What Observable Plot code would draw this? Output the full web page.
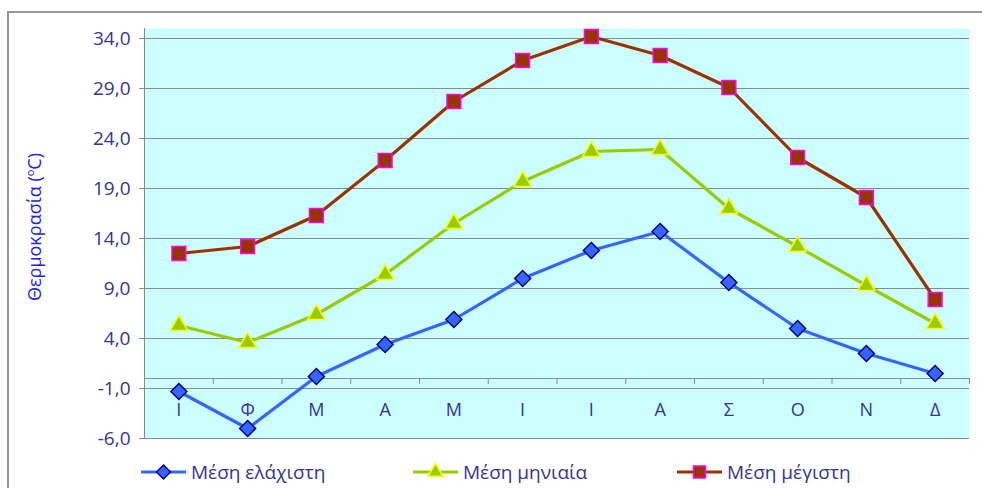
<!DOCTYPE html>
<html><head><meta charset="utf-8">
<script src="https://cdn.jsdelivr.net/npm/d3@7"></script>
<script src="https://cdn.jsdelivr.net/npm/@observablehq/plot@0.6"></script>
<style>
body{margin:0;background:#fff;}
#wrap{position:relative;width:982px;height:488px;overflow:hidden;font-family:"Open Sans",sans-serif;}
#border{position:absolute;left:7px;top:11px;width:990px;height:490px;border-left:2px solid #999;border-top:2px solid #999;}
#chart{position:absolute;left:0;top:0;}
#ytitle{position:absolute;left:34px;top:227px;transform:translate(-50%,-50%) rotate(-90deg);white-space:nowrap;font-size:18px;color:#2020f0;}
#ytitle sup{font-size:11px;}
.leg{position:absolute;top:462px;height:20px;display:flex;align-items:center;font-size:19px;color:#333399;white-space:nowrap;}
.leg svg{margin-right:5px;}
</style>
</head><body>
<div id="wrap">
<div id="border"></div>
<div id="chart"></div>
<div id="ytitle">Θερμοκρασία (<sup>o</sup>C)</div>
<div id="legend"></div>
</div>
<script>
const months = ["Ι","Φ","Μ","Α","Μ","Ι","Ι","Α","Σ","Ο","Ν","Δ"];
const minTemp = [-1.3,-5.0,0.2,3.4,5.9,10.0,12.8,14.7,9.6,5.0,2.5,0.5];
const meanTemp = [5.3,3.6,6.4,10.4,15.5,19.7,22.7,22.9,17.0,13.2,9.3,5.5];
const maxTemp = [12.5,13.2,16.3,21.8,27.7,31.8,34.2,32.3,29.1,22.1,18.1,7.9];
const yTicks = [-6,-1,4,9,14,19,24,29,34];
const seriesNames = ["Μέση ελάχιστη","Μέση μηνιαία","Μέση μέγιστη"];

const styles = [
  {line:"#3366ff", fill:"#3366ff", stroke:"#000080", symbol:"diamond2", r:7.2},
  {line:"#99cc00", fill:"#99cc00", stroke:"#ffff00", symbol:"triangle", r:6.4},
  {line:"#993300", fill:"#993300", stroke:"#ff00ff", symbol:"square", r:7.8}
];
const seriesValues = [minTemp, meanTemp, maxTemp];
const series = seriesNames.map((name, k) => ({
  name, style: styles[k],
  rows: seriesValues[k].map((v, i) => ({i, x: i + 0.5, v, label: months[i]}))
}));

const fmt = d => d.toFixed(1).replace(".", ",");
const marks = [
  Plot.frame({fill:"#ccffff", stroke:null}),
  Plot.ruleY(yTicks, {stroke:"#8a8a8a"}),
  Plot.ruleY([0], {stroke:"#8a8a8a"}),
  Plot.ruleX([0], {stroke:"#8a8a8a"}),
  Plot.ruleX(d3.range(13), {x: d => d, y1: 0, y2: -0.6, stroke:"#8a8a8a"}),
  Plot.text(months, {x: (d, i) => i + 0.5, y: () => 0, dy: 32, fill:"#333399", fontSize: 18}),
  Plot.axisY({ticks: yTicks, tickFormat: fmt, tickSize: 5, tickPadding: 9, stroke:"#8a8a8a", fill:"#333399", label: null, fontSize: 19})
];
for (const s of series) {
  marks.push(Plot.line(s.rows, {x:"x", y:"v", stroke: s.style.line, strokeWidth: 3.2}));
}
for (const s of series) {
  marks.push(Plot.dot(s.rows, {x:"x", y:"v", symbol: s.style.symbol, r: s.style.r, fill: s.style.fill, stroke: s.style.stroke, strokeWidth: 1.5}));
}

const chart = Plot.plot({
  width: 982, height: 488,
  marginLeft: 144, marginRight: 13, marginTop: 28, marginBottom: 50,
  x: {domain: [0, 12], axis: null},
  y: {domain: [-6, 35], axis: null},
  style: {fontFamily: "Open Sans, sans-serif", fontSize: "19px", background: "transparent", overflow: "visible"},
  marks
});
document.getElementById("chart").appendChild(chart);

// legend
const legLefts = [141, 413, 677];
const legend = document.getElementById("legend");
series.forEach((s, k) => {
  const div = document.createElement("div");
  div.className = "leg";
  div.style.left = legLefts[k] + "px";
  const svg = d3.create("svg").attr("width", 45).attr("height", 20);
  svg.append("line").attr("x1", 0).attr("x2", 45).attr("y1", 10).attr("y2", 10)
    .attr("stroke", s.style.line).attr("stroke-width", 3);
  const sym = {diamond2: d3.symbolDiamond2, triangle: d3.symbolTriangle, square: d3.symbolSquare}[s.style.symbol];
  svg.append("path").attr("transform", "translate(22.5,10)")
    .attr("d", d3.symbol(sym, Math.PI * s.style.r * s.style.r * 0.75)())
    .attr("fill", s.style.fill).attr("stroke", s.style.stroke).attr("stroke-width", 1.5);
  div.appendChild(svg.node());
  const span = document.createElement("span");
  span.textContent = s.name;
  div.appendChild(span);
  legend.appendChild(div);
});
</script>
</body></html>
